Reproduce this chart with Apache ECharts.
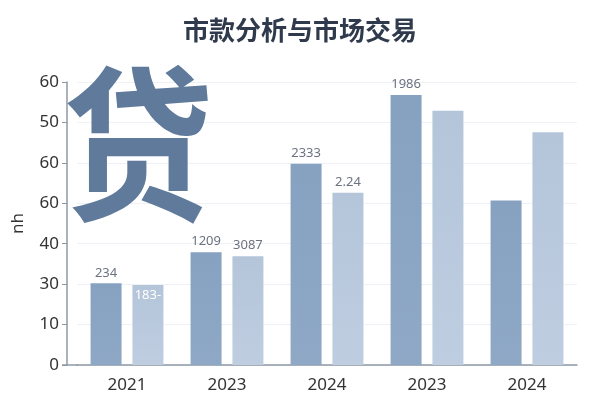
<!DOCTYPE html>
<html><head><meta charset="utf-8">
<script src="https://cdn.jsdelivr.net/npm/echarts@6/dist/echarts.min.js"></script>
<style>html,body{margin:0;padding:0;background:#fff}#c{width:600px;height:400px}</style>
</head><body><div id="c"></div>
<script>
const categories = ['2021', '2023', '2024', '2023', '2024'];
const seriesA = [20.2, 27.9, 49.8, 66.8, 40.7];
const seriesB = [19.8, 26.9, 42.6, 62.9, 57.6];
const labelsA = ['234', '1209', '2333', '1986', ''];
const labelsB = ['183-', '3087', '2.24', '', ''];
const yTickLabels = ['0', '10', '30', '40', '60', '60', '50', '60'];
const titleText = '市款分析与市场交易';
const bigGlyph = '贷';
const yName = 'nh';

const chart = echarts.init(document.getElementById('c'));
const font = '"Noto Sans", "Noto Sans CJK SC", sans-serif';
function mk(vals, labs, inside) {
  return vals.map((v, i) => ({
    value: v,
    label: {
      show: labs[i] !== '',
      formatter: labs[i],
      position: (inside && i === 0) ? 'insideTop' : 'top',
      color: (inside && i === 0) ? '#ffffff' : '#6b7280',
      fontSize: 13,
      distance: 4,
      fontFamily: font
    }
  }));
}
chart.setOption({
  animation: false,
  title: {
    text: titleText, left: 'center', top: 12,
    textStyle: { fontSize: 26, fontWeight: 'bold', color: '#2f3a4c', fontFamily: '"Noto Sans CJK SC", sans-serif' }
  },
  grid: { left: 77, right: 23, top: 82, bottom: 35 },
  xAxis: {
    type: 'category', data: categories,
    axisLine: { lineStyle: { color: '#8e98a4', width: 1.5 } },
    axisTick: { alignWithLabel: true, length: 5, lineStyle: { color: '#8e98a4' } },
    axisLabel: { fontSize: 17, color: '#333', margin: 12, fontFamily: font }
  },
  yAxis: {
    type: 'value', min: 0, max: 70, interval: 10, offset: 10,
    name: yName, nameLocation: 'middle', nameGap: 40, nameRotate: 90,
    nameTextStyle: { fontSize: 17, color: '#333', fontFamily: font },
    axisLine: { show: true, lineStyle: { color: '#8e98a4', width: 1.5 } },
    axisTick: { show: true, length: 5, lineStyle: { color: '#8e98a4' } },
    axisLabel: { fontSize: 17, color: '#333', margin: 8, fontFamily: font,
      formatter: v => yTickLabels[Math.round(v / 10)] },
    splitLine: { lineStyle: { color: '#eef1f5' } }
  },
  series: [
    { type: 'bar', data: mk(seriesA, labelsA, false), barWidth: 31, barGap: '35%',
      itemStyle: { color: new echarts.graphic.LinearGradient(0, 0, 0, 1, [
        { offset: 0, color: '#87a1c1' }, { offset: 1, color: '#8ea8c6' }]) } },
    { type: 'bar', data: mk(seriesB, labelsB, true), barWidth: 31,
      itemStyle: { color: new echarts.graphic.LinearGradient(0, 0, 0, 1, [
        { offset: 0, color: '#b4c5da' }, { offset: 1, color: '#bfcde0' }]) } }
  ],
  graphic: [
    { type: 'line', shape: { x1: 62, y1: 365, x2: 78, y2: 365 }, style: { stroke: '#8e98a4', lineWidth: 1.5 }, z: 10 },
    { type: 'text', x: 63, y: 61, scaleX: 1, scaleY: 1.11, z: 100,
      style: { text: bigGlyph, fontSize: 150, fontWeight: 'bold', fill: '#5f7a9b',
        textVerticalAlign: 'top', verticalAlign: 'top',
        fontFamily: '"Noto Sans CJK SC", sans-serif' } }
  ]
});
</script></body></html>
